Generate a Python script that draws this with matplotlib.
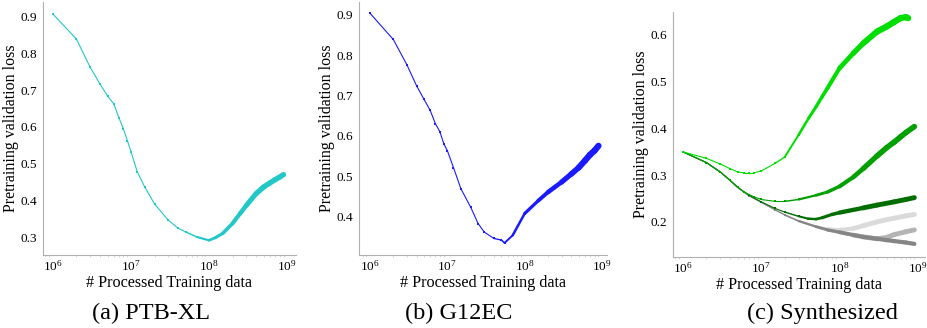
import numpy as np
import matplotlib
matplotlib.use("Agg")
from matplotlib import pyplot as plt
from matplotlib.collections import LineCollection

plt.rcParams['font.family'] = ['Liberation Serif', 'DejaVu Serif']
plt.rcParams['mathtext.fontset'] = 'custom'
plt.rcParams['mathtext.rm'] = 'Liberation Serif'

# (a) PTB-XL
ptb_x = [1e6, 2e6, 3e6, 4e6, 5e6, 6e6, 7e6, 8e6, 9e6, 1e7, 1.2e7, 1.5e7, 2e7, 3e7, 4e7, 5e7,
         7e7, 1e8, 1.2e8, 1.5e8, 2e8, 2.5e8, 3e8, 4e8, 5e8, 6e8, 7e8, 8e8, 9e8]
ptb_y = [0.907, 0.839, 0.762, 0.717, 0.684, 0.663, 0.625, 0.594, 0.562, 0.532, 0.478, 0.436,
         0.39, 0.346, 0.324, 0.314, 0.300, 0.291, 0.298, 0.31, 0.337, 0.364, 0.386, 0.418,
         0.436, 0.447, 0.456, 0.463, 0.47]

# (b) G12EC
g12_x = [1e6, 2e6, 3e6, 4e6, 5e6, 6e6, 7e6, 8e6, 9e6, 1e7, 1.2e7, 1.5e7, 2e7, 2.5e7, 3e7, 4e7,
         5e7, 5.5e7, 7e7, 1e8, 1.5e8, 2e8, 3e8, 4e8, 5e8, 6e8, 7e8, 8e8, 9e8]
g12_y = [0.904, 0.839, 0.776, 0.724, 0.69, 0.663, 0.63, 0.61, 0.58, 0.563, 0.521, 0.468, 0.423,
         0.382, 0.361, 0.345, 0.341, 0.334, 0.353, 0.407, 0.439, 0.46, 0.485, 0.505, 0.521,
         0.538, 0.553, 0.563, 0.575]

# (c) Synthesized
lime_x = [1e6, 2e6, 3e6, 4e6, 5e6, 6e6, 7e6, 8e6, 1e7, 1.5e7, 2e7, 3e7, 4e7, 5e7, 6e7, 7e7,
          1e8, 1.5e8, 2e8, 3e8, 4e8, 5e8, 6e8, 7e8, 7.5e8]
lime_y = [0.35, 0.336, 0.324, 0.314, 0.307, 0.305, 0.305, 0.305, 0.309, 0.325, 0.339, 0.386,
          0.421, 0.446, 0.468, 0.486, 0.529, 0.561, 0.582, 0.607, 0.618, 0.628, 0.636, 0.638,
          0.636]

mid_x = [1e6, 2e6, 3e6, 4e6, 5e6, 6e6, 8e6, 1e7, 1.5e7, 2e7, 3e7, 5e7, 7e7, 1e8, 1.5e8, 2e8,
         3e8, 4e8, 5e8, 6e8, 7e8, 9e8]
mid_y = [0.35, 0.327, 0.307, 0.289, 0.275, 0.264, 0.254, 0.248, 0.244, 0.244, 0.248, 0.257,
         0.264, 0.276, 0.296, 0.314, 0.341, 0.359, 0.371, 0.382, 0.391, 0.404]

dark_x = [1e6, 2e6, 3e6, 4e6, 5e6, 7e6, 1e7, 1.5e7, 2e7, 3e7, 4e7, 5e7, 6e7, 8e7, 1e8, 2e8,
          3e8, 5e8, 7e8, 9e8]
dark_y = [0.35, 0.327, 0.307, 0.289, 0.274, 0.257, 0.243, 0.229, 0.221, 0.212, 0.207, 0.206,
          0.209, 0.216, 0.22, 0.23, 0.236, 0.243, 0.248, 0.252]

gray_x = [1e6, 2e6, 3e6, 4e6, 5e6, 7e6, 1e7, 1.5e7, 2e7, 3e7, 5e7, 7e7, 1e8, 1.5e8, 2e8, 3e8,
          4e8, 5e8, 7e8, 9e8]
lgray_y = [0.35, 0.327, 0.307, 0.289, 0.274, 0.256, 0.242, 0.226, 0.215, 0.202, 0.19, 0.185,
           0.183, 0.186, 0.192, 0.2, 0.205, 0.208, 0.213, 0.216]
mgray_y = [0.35, 0.327, 0.307, 0.289, 0.274, 0.256, 0.242, 0.226, 0.215, 0.202, 0.19, 0.183,
           0.178, 0.172, 0.168, 0.164, 0.167, 0.173, 0.179, 0.183]
dgray_y = [0.35, 0.327, 0.307, 0.289, 0.274, 0.256, 0.242, 0.226, 0.215, 0.202, 0.19, 0.183,
           0.178, 0.172, 0.168, 0.164, 0.161, 0.159, 0.156, 0.153]

fig = plt.figure(figsize=(9.28, 3.28), dpi=100)


def draw(ax, x, y, color, thin_until, thick_at, maxw=4.0):
    # dense noisy samples at the right end look like a thick band: widen the line there
    x = np.array(x)
    y = np.array(y)
    pts = np.column_stack([x, y]).reshape(-1, 1, 2)
    segs = np.concatenate([pts[:-1], pts[1:]], axis=1)
    lx = np.log10(np.sqrt(x[:-1] * x[1:]))
    lw = np.interp(lx, [np.log10(thin_until), np.log10(thick_at)], [0.8, maxw])
    lc = LineCollection(segs, colors=color, linewidths=lw, capstyle='round', joinstyle='round')
    ax.add_collection(lc)
    ax.plot(x, y, ls='none', color=color, marker='s', ms=2.0, mew=0)


def style(ax, xlim, ylim, yticks):
    ax.set_xscale('log')
    ax.set_xlim(xlim)
    ax.set_ylim(ylim)
    ax.set_xticks([1e6, 1e7, 1e8, 1e9])
    ax.set_yticks(yticks)
    ax.set_yticklabels(['%.1f' % t for t in yticks])
    for s in ['top', 'right']:
        ax.spines[s].set_visible(False)
    for s in ['left', 'bottom']:
        ax.spines[s].set_color('#b0b0b0')
        ax.spines[s].set_linewidth(0.8)
    ax.tick_params(axis='y', length=0, labelsize=9.5, pad=4)
    ax.tick_params(axis='x', which='major', length=0, labelsize=9.5, pad=3)
    ax.tick_params(axis='x', which='minor', length=1.5, color='#d0d0d0', width=0.6)
    ax.set_xlabel('# Processed Training data', fontsize=11.6, labelpad=1)
    ax.set_ylabel('Pretraining validation loss', fontsize=11.5, labelpad=1)


ax1 = fig.add_axes([43 / 928, 1 - 255 / 328, 253 / 928, 253 / 328])
draw(ax1, ptb_x, ptb_y, '#22c8c8', 5e7, 4e8, 3.8)
style(ax1, (7.45e5, 1.3e9), (0.251, 0.94), [0.3, 0.4, 0.5, 0.6, 0.7, 0.8, 0.9])

ax2 = fig.add_axes([359 / 928, 1 - 255 / 328, 248 / 928, 253 / 328])
draw(ax2, g12_x, g12_y, '#1a1aff', 4e7, 6e8, 4.5)
style(ax2, (7.2e5, 1.16e9), (0.304, 0.932), [0.4, 0.5, 0.6, 0.7, 0.8, 0.9])

ax3 = fig.add_axes([673 / 928, 1 - 257 / 328, 252 / 928, 245 / 328])
draw(ax3, gray_x, lgray_y, '#dadada', 2e7, 2e8, 3.5)
draw(ax3, gray_x, mgray_y, '#b4b4b4', 2e7, 2e8, 3.5)
draw(ax3, gray_x, dgray_y, '#858585', 2e7, 2e8, 3.0)
draw(ax3, dark_x, dark_y, '#006e00', 2e7, 2e8, 3.5)
draw(ax3, mid_x, mid_y, '#00a000', 2e7, 3e8, 4.0)
draw(ax3, lime_x, lime_y, '#00dd00', 1.5e7, 3e8, 4.5)
style(ax3, (7.5e5, 1.23e9), (0.125, 0.649), [0.2, 0.3, 0.4, 0.5, 0.6])

fig.text(151 / 928, 1 - 313 / 328, '(a) PTB-XL', fontsize=17.5, ha='center', va='center')
fig.text(459 / 928, 1 - 313 / 328, '(b) G12EC', fontsize=17.5, ha='center', va='center')
fig.text(822 / 928, 1 - 313 / 328, '(c) Synthesized', fontsize=17.5, ha='center', va='center')

fig.savefig('out.png', dpi=100)
